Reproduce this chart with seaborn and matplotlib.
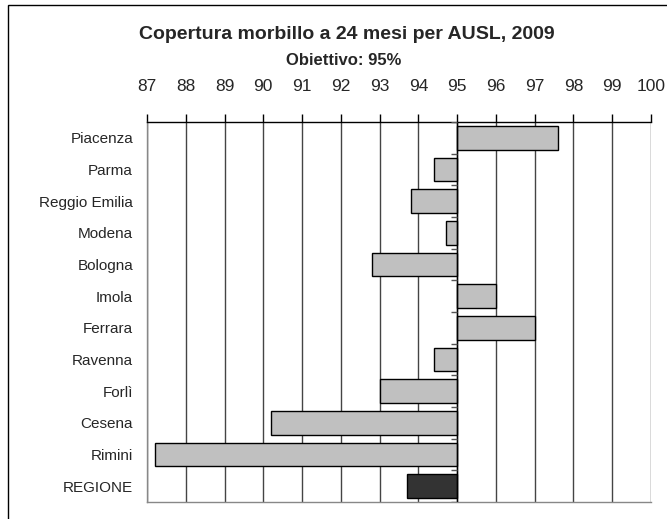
import numpy as np
import pandas as pd
import matplotlib
matplotlib.use("Agg")
import matplotlib.pyplot as plt
import seaborn as sns
from matplotlib.ticker import FuncFormatter, MultipleLocator
from matplotlib.patches import Rectangle

# dati: copertura morbillo a 24 mesi (%), 2009
ausl = ["Piacenza", "Parma", "Reggio Emilia", "Modena", "Bologna", "Imola",
        "Ferrara", "Ravenna", "Forlì", "Cesena", "Rimini", "REGIONE"]
copertura = [97.6, 94.4, 93.8, 94.7, 92.8, 96.0,
             97.0, 94.4, 93.0, 90.2, 87.2, 93.7]
obiettivo = 95
x_min, x_max = 87, 100

sns.set_theme(style="white")
plt.rcParams["font.family"] = ["Liberation Sans", "DejaVu Sans"]

df = pd.DataFrame({"ausl": ausl, "copertura": copertura})
df["diff"] = df["copertura"] - obiettivo
colori = {a: ("#333333" if a == "REGIONE" else "#c0c0c0") for a in ausl}

fig = plt.figure(figsize=(6.67, 5.19), dpi=100)
ax = fig.add_axes([0.2204, 0.0328, 0.7556, 0.7322])

sns.barplot(data=df, x="diff", y="ausl", hue="ausl", palette=colori,
            orient="h", width=0.74, edgecolor="black", linewidth=1,
            legend=False, ax=ax, zorder=3)

ax.set_xlim(x_min - obiettivo, x_max - obiettivo)
ax.set_ylim(len(ausl) - 0.5, -0.5)
ax.xaxis.set_major_locator(MultipleLocator(1))
ax.xaxis.set_major_formatter(FuncFormatter(lambda v, p: f"{v + obiettivo:.0f}"))
ax.xaxis.tick_top()
ax.tick_params(axis="x", direction="out", length=6, width=1, color="black",
               labelsize=12.5, pad=14, bottom=False, top=True)
ax.tick_params(axis="y", length=0, labelsize=11, pad=10)
ax.set_xlabel("")
ax.set_ylabel("")

# griglia verticale
ax.grid(axis="x", color="#444444", linewidth=1, zorder=0)
ax.set_axisbelow(True)

# asse a 95 con tacche tra le categorie
ax.axvline(0, color="black", linewidth=1, zorder=4)
ax.hlines(np.arange(len(ausl) + 1) - 0.5, -0.15, 0, color="#555555",
          linewidth=1, zorder=4)

for side in ["left", "bottom"]:
    ax.spines[side].set_color("#888888")
    ax.spines[side].set_linewidth(1)
ax.spines["top"].set_color("black")
ax.spines["top"].set_linewidth(1)
ax.spines["right"].set_visible(False)

fig.text(0.52, 0.934, "Copertura morbillo a 24 mesi per AUSL, 2009",
         ha="center", va="center", fontsize=14, fontweight="bold")
fig.text(0.516, 0.884, "Obiettivo: 95%", ha="center", va="center",
         fontsize=12, fontweight="bold")

# cornice dell'area del grafico
fig.patches.append(Rectangle((8 / 667, -0.05), 1.0, 1 - 5 / 519 + 0.05,
                             transform=fig.transFigure, fill=False,
                             edgecolor="black", linewidth=1))

fig.savefig("out.png", dpi=100)
